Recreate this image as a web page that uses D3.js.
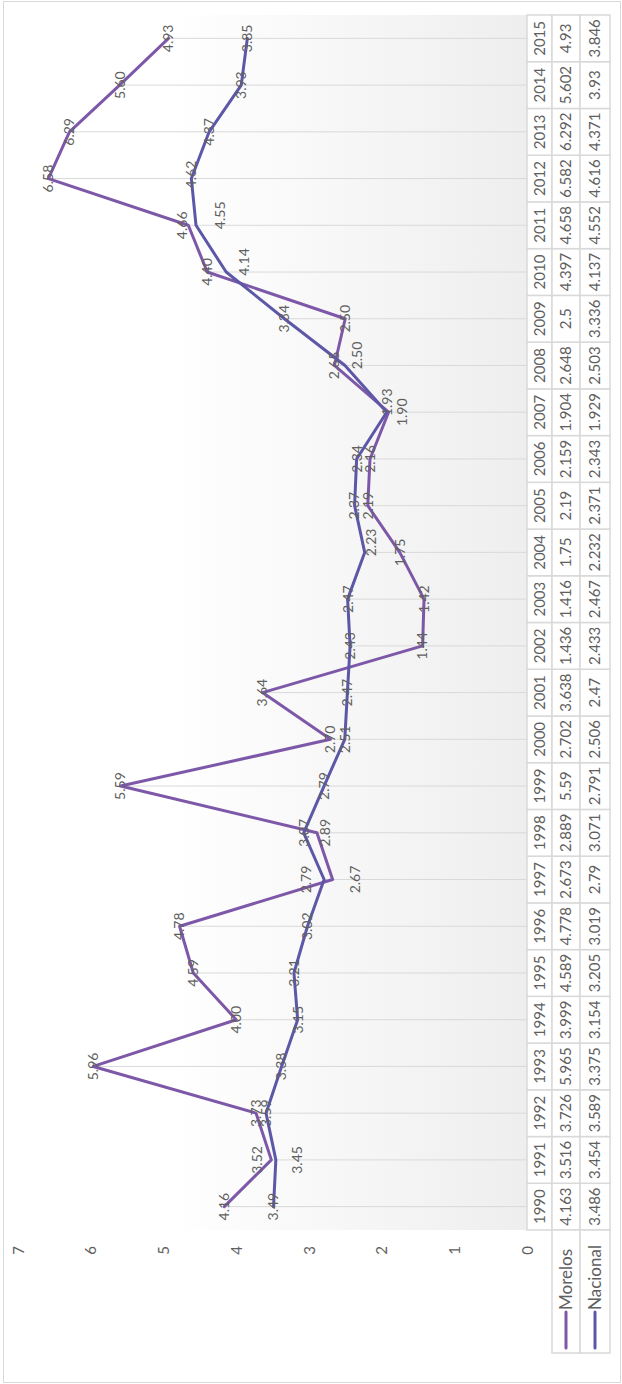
<!DOCTYPE html>
<html>
<head>
<meta charset="utf-8">
<script src="https://cdn.jsdelivr.net/npm/d3@7"></script>
<style>
body { margin: 0; background: #fff; }
text { font-family: Lato, "Open Sans", sans-serif; font-weight: 400; fill: #606060; }
</style>
</head>
<body>
<script>
// chart is drawn landscape (1384 x 622) and turned -90deg into the portrait page
var years = [1990, 1991, 1992, 1993, 1994, 1995, 1996, 1997, 1998, 1999, 2000, 2001, 2002,
    2003, 2004, 2005, 2006, 2007, 2008, 2009, 2010, 2011, 2012, 2013, 2014, 2015];
var morelos = [4.163, 3.516, 3.726, 5.965, 3.999, 4.589, 4.778, 2.673, 2.889, 5.59, 2.702, 3.638, 1.436,
    1.416, 1.75, 2.19, 2.159, 1.904, 2.648, 2.5, 4.397, 4.658, 6.582, 6.292, 5.602, 4.93];
var nacional = [3.486, 3.454, 3.589, 3.375, 3.154, 3.205, 3.019, 2.79, 3.071, 2.791, 2.506, 2.47, 2.433,
    2.467, 2.232, 2.371, 2.343, 1.929, 2.503, 3.336, 4.137, 4.552, 4.616, 4.371, 3.93, 3.846];
// table text as shown in the data table (Excel general format)
var morelosTxt = ["4.163", "3.516", "3.726", "5.965", "3.999", "4.589", "4.778", "2.673", "2.889", "5.59", "2.702", "3.638", "1.436",
    "1.416", "1.75", "2.19", "2.159", "1.904", "2.648", "2.5", "4.397", "4.658", "6.582", "6.292", "5.602", "4.93"];
var nacionalTxt = ["3.486", "3.454", "3.589", "3.375", "3.154", "3.205", "3.019", "2.79", "3.071", "2.791", "2.506", "2.47", "2.433",
    "2.467", "2.232", "2.371", "2.343", "1.929", "2.503", "3.336", "4.137", "4.552", "4.616", "4.371", "3.93", "3.846"];

var series = [
    { name: "Morelos", values: morelos, txt: morelosTxt, color: "#7e58a8" },
    { name: "Nacional", values: nacional, txt: nacionalTxt, color: "#5d57a8" }
];

// hand-moved labels (landscape coords: dx along years, dy along values)
var nudge = {
    "Morelos": { 1991: [0, -14], 1997: [0, 22], 1998: [0, 8], 2007: [0, 14], 2011: [0, -6] },
    "Nacional": { 1991: [0, 21], 1997: [0, -18], 2004: [10, 6], 2007: [10, 0], 2008: [10, 12],
        2010: [10, 18], 2011: [10, 24], 2012: [4, 0] }
};

var W = 1384, H = 622;
var plot = { left: 154, right: 1369, top: 18, bottom: 527 };
var rowYear = [527, 552], rowM = [552, 580], rowN = [580, 610];
var legendLeft = 31;

var svg = d3.select("body").append("svg")
    .attr("width", H)
    .attr("height", W);

var g = svg.append("g")
    .attr("transform", "translate(0," + W + ") rotate(-90)");

var defs = svg.append("defs");
var grad = defs.append("linearGradient")
    .attr("id", "bg")
    .attr("x1", 0).attr("y1", 0).attr("x2", 0).attr("y2", 1);
grad.append("stop").attr("offset", "0.3").attr("stop-color", "#ffffff");
grad.append("stop").attr("offset", "1").attr("stop-color", "#eeeeee");

// outer frame
g.append("rect")
    .attr("x", 1.5).attr("y", 3.5)
    .attr("width", W - 3).attr("height", H - 5)
    .attr("fill", "#fff")
    .attr("stroke", "#d9d9d9");

var x = d3.scaleBand()
    .domain(years)
    .range([plot.left, plot.right]);
var y = d3.scaleLinear()
    .domain([0, 7])
    .range([plot.bottom, plot.top]);
var cx = function (yr) { return x(yr) + x.bandwidth() / 2; };

g.append("rect")
    .attr("x", plot.left).attr("y", plot.top)
    .attr("width", plot.right - plot.left).attr("height", plot.bottom - plot.top)
    .attr("fill", "url(#bg)");

// drop lines from the highest point of each year
g.append("g").selectAll("line")
    .data(years)
    .enter().append("line")
    .attr("x1", function (d) { return cx(d); })
    .attr("x2", function (d) { return cx(d); })
    .attr("y1", function (d, i) { return y(Math.max(morelos[i], nacional[i])); })
    .attr("y2", y(0))
    .attr("stroke", "#d9d9d9")
    .attr("stroke-width", 1);

// value axis
var yAxis = g.append("g")
    .attr("transform", "translate(138,0)")
    .call(d3.axisLeft(y).ticks(7).tickSize(0).tickPadding(0));
yAxis.select(".domain").remove();
yAxis.selectAll("text")
    .attr("font-size", 15)
    .attr("font-family", null)
    .attr("fill", "#606060")
    .attr("dy", "0.35em");

// lines
var line = d3.line()
    .x(function (d, i) { return cx(years[i]); })
    .y(function (d) { return y(d); });

g.append("g").selectAll("path")
    .data(series)
    .enter().append("path")
    .attr("d", function (d) { return line(d.values); })
    .attr("fill", "none")
    .attr("stroke", function (d) { return d.color; })
    .attr("stroke-width", 3)
    .attr("stroke-linejoin", "round")
    .attr("stroke-linecap", "round");

// data labels
var fmt = d3.format(".2f");
series.forEach(function (s) {
    g.append("g").selectAll("text")
        .data(s.values)
        .enter().append("text")
        .attr("x", function (d, i) {
            var n = nudge[s.name][years[i]];
            return cx(years[i]) + (n ? n[0] : 0);
        })
        .attr("y", function (d, i) {
            var n = nudge[s.name][years[i]];
            return y(d) + (n ? n[1] : 0);
        })
        .attr("dy", "0.35em")
        .attr("text-anchor", "middle")
        .attr("font-size", 14)
        .text(function (d) { return fmt(d); });
});

// data table
var table = g.append("g");
var rows = [
    { r: rowYear, txt: years.map(String) },
    { r: rowM, txt: morelosTxt },
    { r: rowN, txt: nacionalTxt }
];
rows.forEach(function (row) {
    table.append("g").selectAll("rect")
        .data(years)
        .enter().append("rect")
        .attr("x", function (d) { return x(d); })
        .attr("y", row.r[0])
        .attr("width", x.bandwidth())
        .attr("height", row.r[1] - row.r[0])
        .attr("fill", "#fff")
        .attr("stroke", "#d9d9d9")
        .attr("stroke-width", 1.5);
    table.append("g").selectAll("text")
        .data(row.txt)
        .enter().append("text")
        .attr("x", function (d, i) { return cx(years[i]); })
        .attr("y", (row.r[0] + row.r[1]) / 2)
        .attr("dy", "0.36em")
        .attr("text-anchor", "middle")
        .attr("font-size", 15)
        .text(function (d) { return d; });
});

// legend cells
[rowM, rowN].forEach(function (r, k) {
    var s = series[k];
    var mid = (r[0] + r[1]) / 2;
    table.append("rect")
        .attr("x", legendLeft).attr("y", r[0])
        .attr("width", plot.left - legendLeft).attr("height", r[1] - r[0])
        .attr("fill", "#fff")
        .attr("stroke", "#d9d9d9")
        .attr("stroke-width", 1.5);
    table.append("line")
        .attr("x1", legendLeft + 5).attr("x2", legendLeft + 41)
        .attr("y1", mid).attr("y2", mid)
        .attr("stroke", s.color)
        .attr("stroke-width", 3)
        .attr("stroke-linecap", "round");
    table.append("text")
        .attr("x", legendLeft + 43)
        .attr("y", mid)
        .attr("dy", "0.36em")
        .attr("font-size", 17)
        .text(s.name);
});
</script>
</body>
</html>
